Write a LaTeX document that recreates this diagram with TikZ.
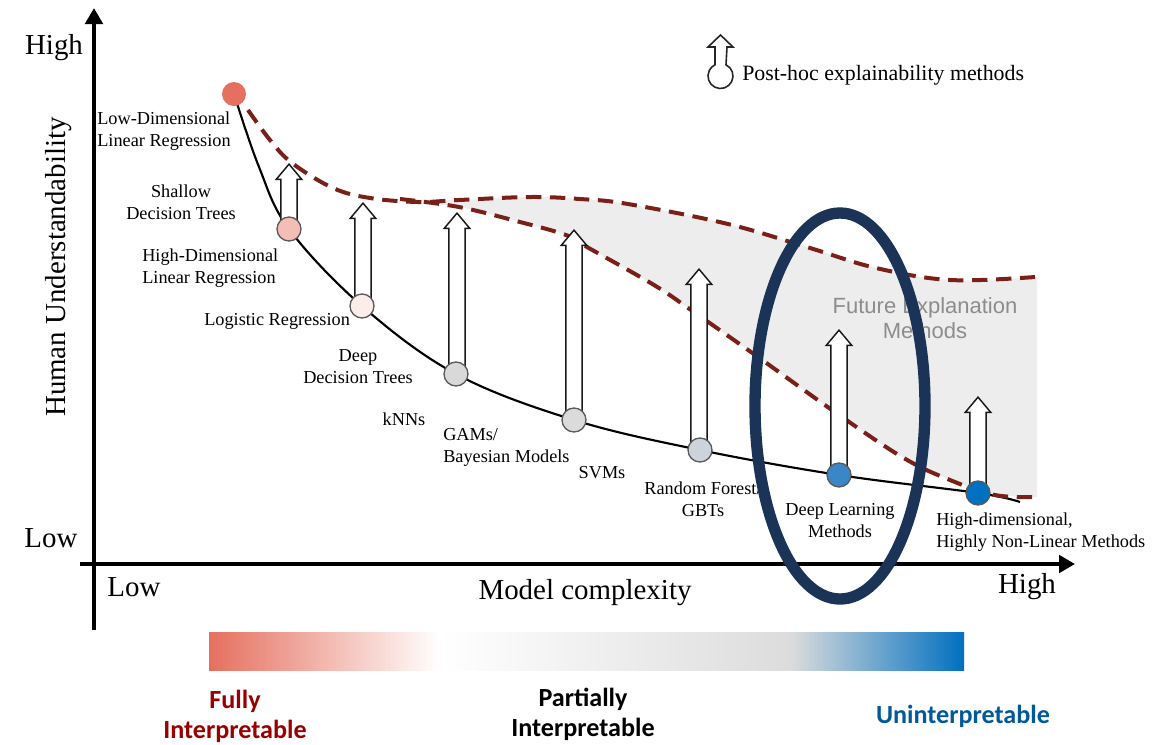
\documentclass[tikz,border=0pt]{standalone}
\usepackage{fontspec}
\setmainfont{Liberation Serif}
\newfontfamily\barfont{Carlito}
\newfontfamily\greyfont{Liberation Sans}
\usetikzlibrary{arrows.meta}
\usetikzlibrary{shapes.arrows}
\definecolor{dashred}{HTML}{7A2019}
\definecolor{ringblue}{HTML}{1C3358}
\definecolor{areagrey}{HTML}{EDEDED}
\definecolor{startred}{HTML}{E5705F}
\definecolor{bargrey}{HTML}{DCDCDC}
\definecolor{endblue}{HTML}{0070C0}
\definecolor{ptshallow}{HTML}{F4BDB5}
\definecolor{pthighlin}{HTML}{FBEEEA}
\definecolor{ptforest}{HTML}{CDD3DA}
\definecolor{ptdeep}{HTML}{3A87C8}
\pgfdeclarehorizontalshading{interpbar}{100bp}{color(0bp)=(startred);
 color(25bp)=(startred); color(40.3bp)=(white); color(63.5bp)=(bargrey);
 color(75bp)=(endblue); color(100bp)=(endblue)}
\tikzset{
 axisline/.style={line width=3.6pt,-{Triangle[length=12pt,width=13pt]}},
 dot/.style={circle,draw=black!65,line width=1pt,minimum size=18pt,inner sep=0pt},
 upblock/.style={single arrow,draw=black!90,fill=white,line width=1.1pt,inner sep=5.6pt,
  minimum width=18.5pt,single arrow head extend=3.4pt,single arrow tip angle=80,
  shape border rotate=90,anchor=tip},
 lbl/.style={font=\fontsize{13.7}{16.5}\selectfont,inner sep=0pt,align=center},
 biglbl/.style={font=\fontsize{21.7}{24}\selectfont,inner sep=0pt},
 barlbl/.style={font=\barfont\bfseries\fontsize{19.6}{22.5}\selectfont,inner sep=0pt,align=center},
 dashcurve/.style={dashred,line width=3pt,dash pattern=on 11.5pt off 6.5pt},
}
\begin{document}
\begin{tikzpicture}[x=0.75pt,y=-0.75pt]
 \useasboundingbox (0,0) rectangle (1160,744);

 % Future area
 \fill[areagrey] plot[smooth,tension=0.6] coordinates {(400,199) (459,200) (530,197) (580,199) (628,204) (728,224) (810,248) (876,268) (950,280) (1037,277)}
  -- (1037,497)
  -- plot[smooth,tension=0.6] coordinates {(995,495) (950,480) (902,457) (832,410) (758,357) (691,310) (654,285) (587,247) (566,235) (520,222) (459,207) (400,199)} -- cycle;
 \node[font=\greyfont\fontsize{16.5}{18.8}\selectfont,text=black!45,align=center,inner sep=0pt] (futureText) at (925,318) {Future Explanation\\Methods};

 % Axes
 \coordinate (yStart) at (94,630);
 \coordinate (yEnd) at (94,8);
 \coordinate (xStart) at (80,564);
 \coordinate (xEnd) at (1075,564);
 \draw[axisline] (yStart) -- (yEnd);
 \draw[axisline] (xStart) -- (xEnd);

 % Curve points
 \foreach \pt/\x/\y in {ptLowLin/234/94,ptShallow/289/229,ptHighLin/362/306,ptDeepTree/456/374,ptGam/574/420,ptForest/700/450,ptDeep/839/475,ptNonLin/978/493}
  \coordinate (\pt) at (\x,\y);

 % Curves
 \draw[black,line width=1.6pt] plot[smooth,tension=0.6] coordinates {(ptLowLin) (259,167) (ptShallow) (ptHighLin) (ptDeepTree) (ptGam) (ptForest) (ptDeep) (ptNonLin) (1020,502)};
 \draw[dashcurve] plot[smooth,tension=0.6] coordinates {(248,110) (270,140) (292,163) (333,188) (370,198) (418,202) (459,200) (530,197) (580,199) (628,204) (728,224) (810,248) (876,268) (950,280) (1035,277)};
 \draw[dashcurve] plot[smooth,tension=0.6] coordinates {(400,199) (459,207) (520,222) (566,235) (587,247) (654,285) (691,310) (758,357) (832,410) (902,457) (950,480) (995,495) (1035,497)};

 % Block arrows
 \foreach \name/\x/\tip/\base in {A/289/163/229,B/363/202/306,C/457/212/374,D/574/229/420,E/699/268/450,F/839/329/475,G/978/396/493}
  \node[upblock,minimum height={(\base-\tip)*0.75pt}] (arrow\name) at (\x,\tip) {};

 % Model points
 \node[dot,draw=none,fill=startred] (dotLowLin) at (ptLowLin) {};
 \foreach \pt/\col in {ptShallow/ptshallow,ptHighLin/pthighlin,ptDeepTree/black!15,ptGam/black!14,ptForest/ptforest,ptDeep/ptdeep,ptNonLin/endblue}
  \node[dot,fill=\col] (dot\pt) at (\pt) {};

 % Legend
 \draw[black!85,line width=1.2pt,line join=miter] (720.5,35) -- (733,47) -- (727,47) -- (726,64.8)
  arc[start angle=-63.8,end angle=243.8,radius=12.5] -- (715,47) -- (708,47) -- cycle;
 \node[lbl,font=\fontsize{16.4}{18}\selectfont,anchor=west] (legendText) at (742,75) {Post-hoc explainability methods};

 % Labels
 \node[biglbl] (yHigh) at (54,48) {High};
 \node[biglbl] (yLow) at (51,538) {Low};
 \node[biglbl,rotate=90] (yTitle) at (59,267) {Human Understandability};
 \node[biglbl] (xLow) at (134,587) {Low};
 \node[biglbl] (xTitle) at (585,593) {Model complexity};
 \node[biglbl] (xHigh) at (1027,587) {High};

 \node[lbl,align=left,anchor=west] (lblLowLin) at (97,131) {Low-Dimensional\\Linear Regression};
 \node[lbl] (lblShallow) at (181,202) {Shallow\\Decision Trees};
 \node[lbl,align=left,anchor=west] (lblHighLin) at (142,268) {High-Dimensional\\Linear Regression};
 \node[lbl,anchor=west] (lblLogistic) at (204,321) {Logistic Regression};
 \node[lbl] (lblDeepTree) at (358,367) {Deep\\Decision Trees};
 \node[lbl] (lblKnn) at (404,419) {kNNs};
 \node[lbl,align=left,anchor=west] (lblGam) at (443,447) {GAMs/\\Bayesian Models};
 \node[lbl] (lblSvm) at (602,473) {SVMs};
 \node[lbl] (lblForest) at (703,499) {Random Forest/\\GBTs};
 \node[lbl] (lblDeep) at (840,521) {Deep Learning\\Methods};
 \node[lbl,align=left,anchor=west] (lblNonLin) at (936,532) {High-dimensional,\\Highly Non-Linear Methods};

 % Bar
 \path[shading=interpbar] (209,632) rectangle (964,670);
 \node[barlbl,text=red!60!black] (barFully) at (235,716) {Fully\\Interpretable};
 \node[barlbl,text=black] (barPartly) at (583,714) {Partially\\Interpretable};
 \node[barlbl,text=endblue!80!black] (barUn) at (963,716) {Uninterpretable};

 % Ring
 \draw[ringblue,line width=8.5pt] (840,406) ellipse [x radius=85,y radius=193];
\end{tikzpicture}
\end{document}
